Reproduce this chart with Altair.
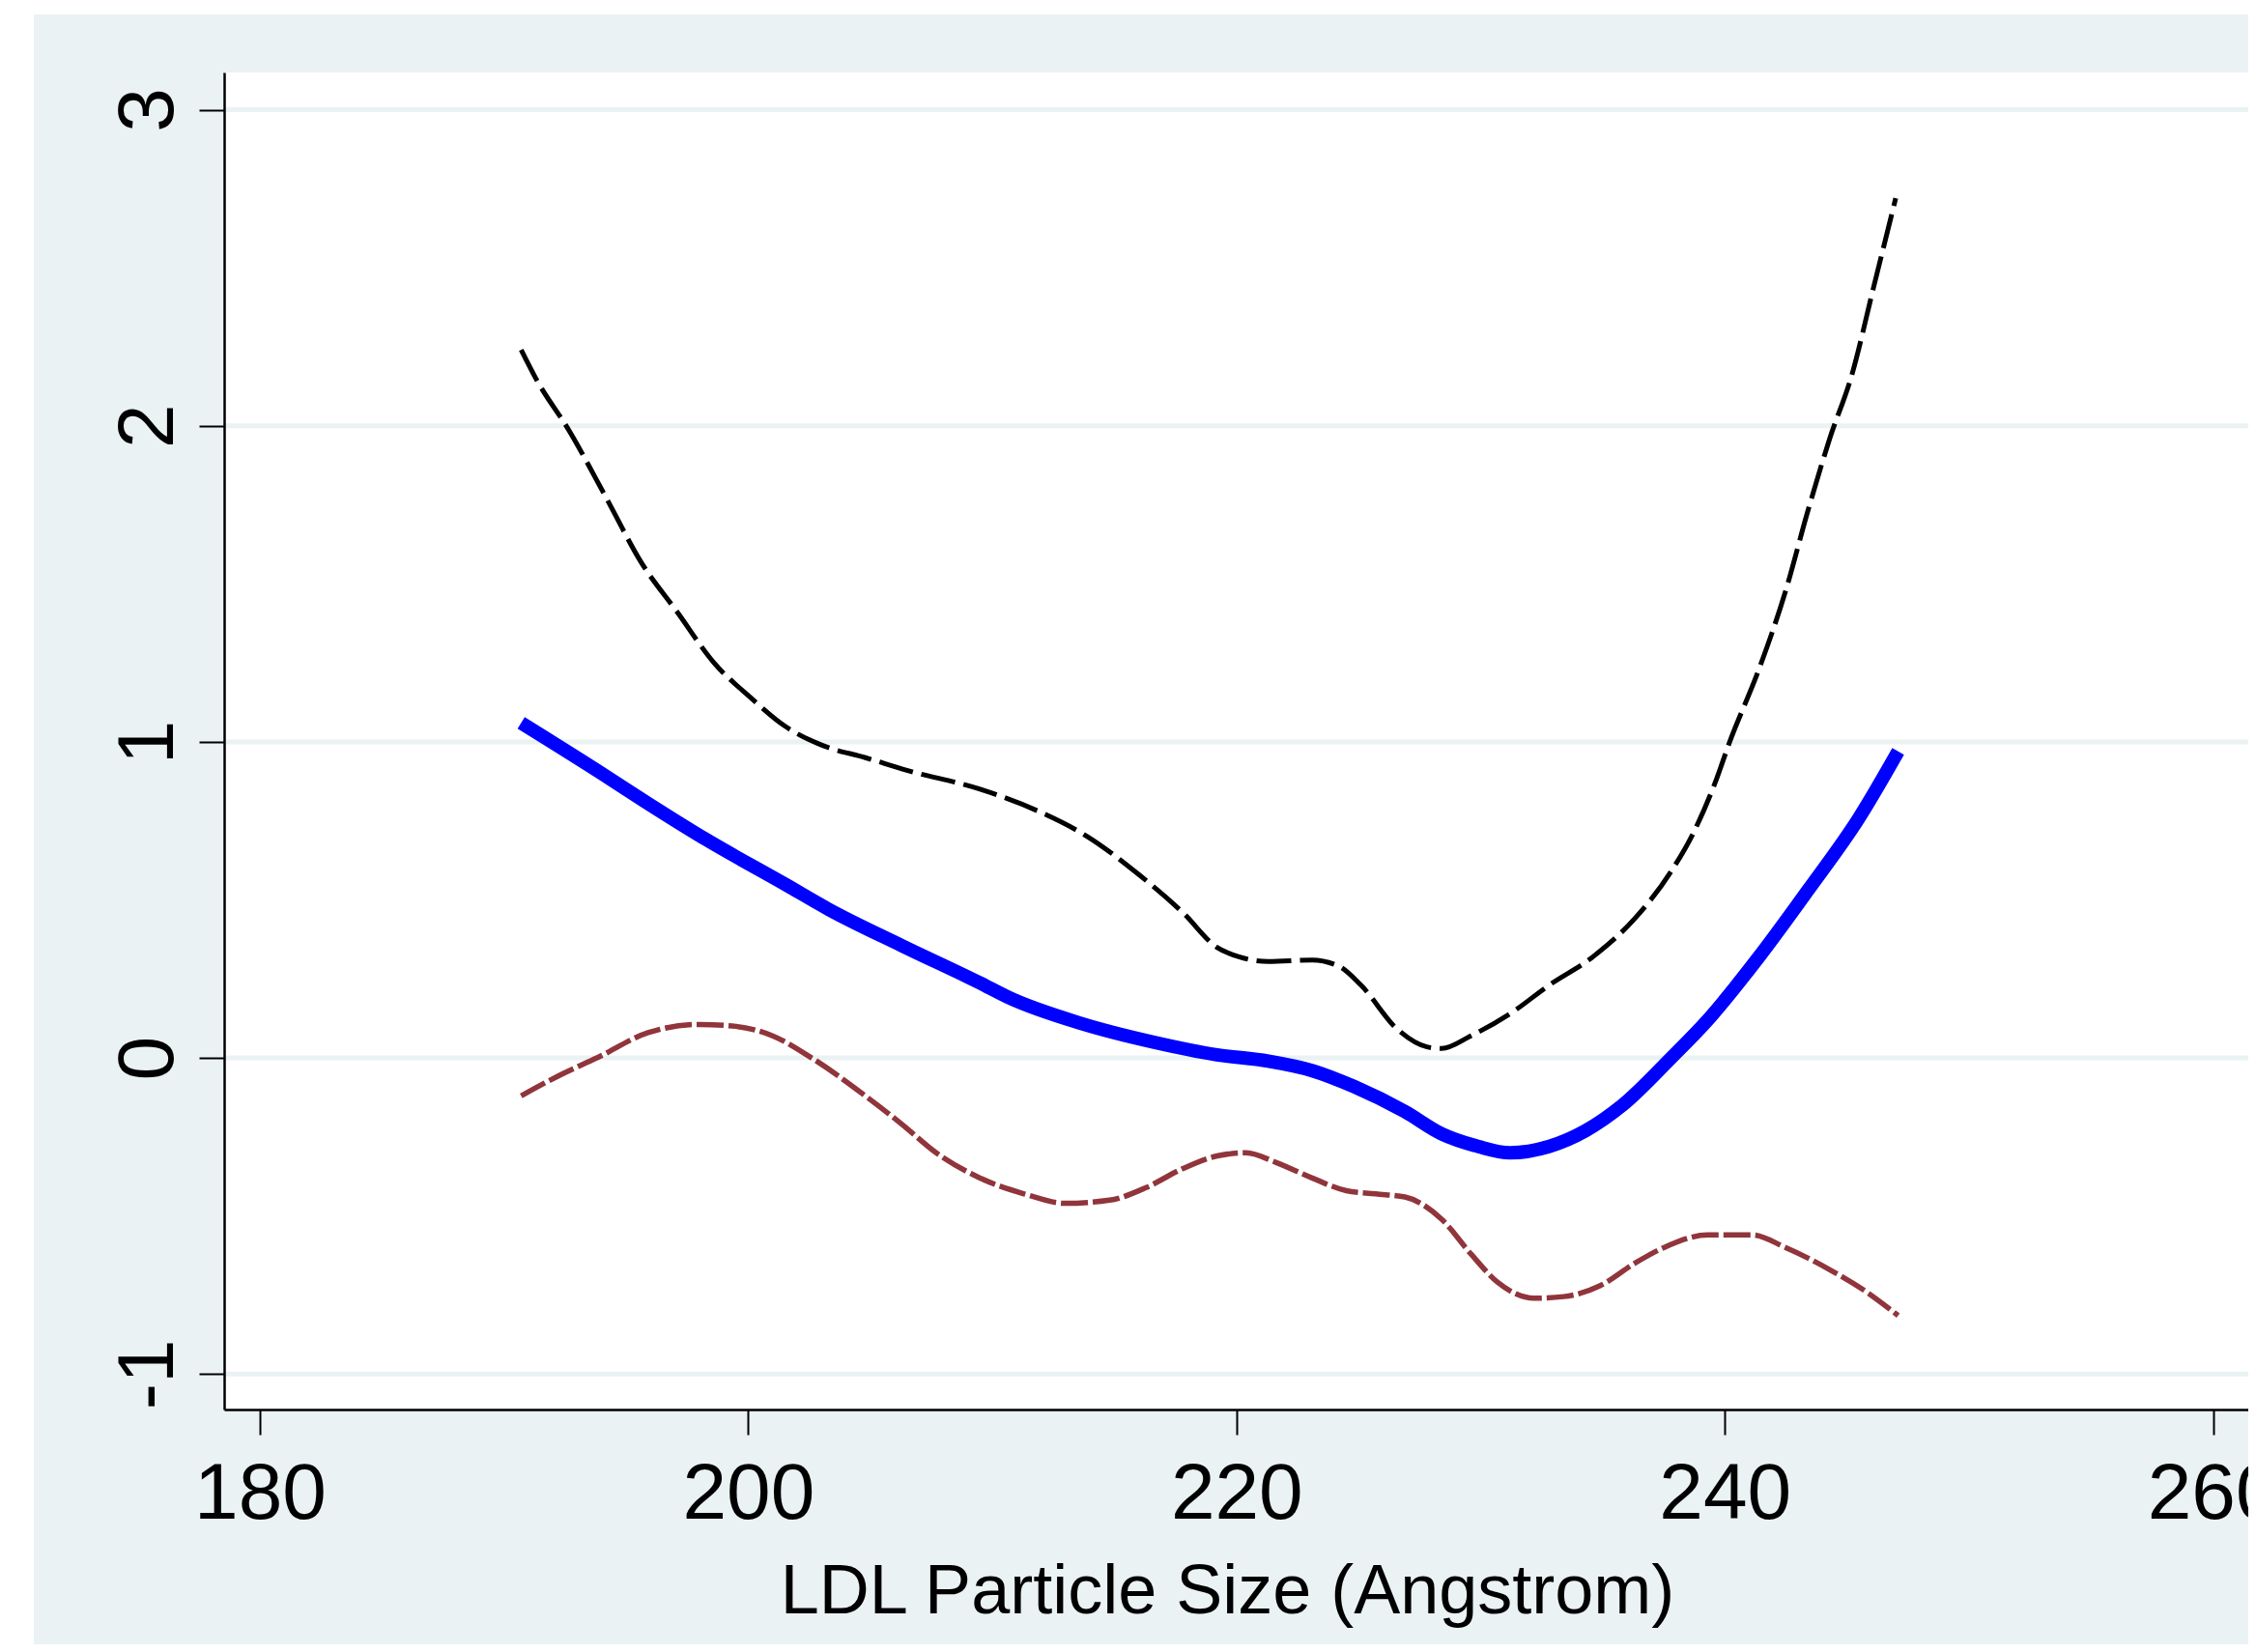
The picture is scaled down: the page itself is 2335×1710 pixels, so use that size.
import altair as alt
import pandas as pd

# ---- data ----
x_ticks = [180, 200, 220, 240, 260]
y_ticks = [-1, 0, 1, 2, 3]
x_title = "LDL Particle Size (Angstrom)"

blue_x = [190.7, 194.0, 195.8, 198.3, 201.5, 203.3, 206.3, 209.5, 210.7, 213.6,
          216.6, 219.2, 221.3, 223.1, 224.8, 226.9, 228.4, 229.9, 231.2, 232.8,
          234.3, 235.8, 237.8, 239.3, 241.4, 243.4, 245.5, 247.1]
blue_y = [1.06, 0.90, 0.81, 0.69, 0.55, 0.47, 0.355, 0.237, 0.19, 0.11,
          0.05, 0.01, -0.01, -0.04, -0.09, -0.17, -0.24, -0.28, -0.30, -0.28,
          -0.23, -0.15, 0.00, 0.12, 0.32, 0.53, 0.76, 0.97]

upper_x = [190.7, 191.3, 192.7, 194.2, 195.6, 197.1, 198.6, 200.1, 201.5, 203.0,
           204.8, 206.5, 209.5, 211.9, 213.9, 216.0, 217.8, 219.2, 220.1, 221.3,
           223.1, 224.2, 225.1, 226.6, 227.8, 228.4, 229.6, 231.3, 232.8, 234.6,
           236.3, 237.8, 238.7, 239.6, 240.2, 241.4, 242.5, 243.4, 244.3, 245.2,
           246.1, 247.0]
upper_y = [2.24, 2.15, 1.98, 1.77, 1.57, 1.41, 1.25, 1.14, 1.05, 0.99,
           0.95, 0.91, 0.85, 0.78, 0.70, 0.58, 0.46, 0.35, 0.32, 0.305,
           0.31, 0.29, 0.23, 0.09, 0.035, 0.03, 0.07, 0.145, 0.23, 0.32,
           0.44, 0.59, 0.71, 0.87, 1.00, 1.23, 1.48, 1.73, 1.96, 2.16,
           2.44, 2.72]

lower_x = [190.7, 192.4, 193.8, 195.9, 198.0, 199.5, 201.0, 202.6, 204.8, 206.3,
           207.7, 209.5, 211.3, 213.0, 214.8, 216.3, 217.8, 219.2, 220.4, 221.6,
           223.1, 224.5, 225.7, 226.9, 228.4, 229.6, 230.7, 232.2, 233.4, 234.9,
           236.3, 237.5, 239.3, 241.1, 242.5, 244.3, 245.8, 247.1]
lower_y = [-0.12, -0.05, 0.00, 0.08, 0.106, 0.10, 0.07, 0.00, -0.12, -0.21,
           -0.30, -0.38, -0.43, -0.46, -0.45, -0.41, -0.35, -0.31, -0.30, -0.33,
           -0.38, -0.42, -0.43, -0.44, -0.51, -0.62, -0.71, -0.76, -0.755, -0.72,
           -0.65, -0.60, -0.56, -0.56, -0.60, -0.67, -0.74, -0.815]

# ---- styling ----
BG = "#EAF2F3"
FONT = "Liberation Sans"
W, H = 2095, 1384

x_scale = alt.Scale(domain=[178.536, 261.44], nice=False, zero=False)
y_scale = alt.Scale(domain=[-1.1122, 3.1177], nice=False, zero=False)

x_axis = alt.Axis(values=x_ticks, grid=False, title=x_title, zindex=1,
                  domainColor="black", domainWidth=2.5, tickColor="black",
                  tickWidth=2, tickSize=26, labelFont=FONT, labelFontSize=82,
                  labelColor="black", labelBaseline="alphabetic", labelPadding=86,
                  labelFlush=False, labelOverlap=False, format="d",
                  titleFont=FONT, titleFontSize=72, titleFontWeight="normal",
                  titleColor="black", titleBaseline="alphabetic", titleY=210,
                  titleX=1038, titleAlign="center")
y_axis = alt.Axis(values=y_ticks, grid=False, title="", zindex=1,
                  domainColor="black", domainWidth=2.5, tickColor="black",
                  tickWidth=2, tickSize=26, labelFont=FONT, labelFontSize=82,
                  labelColor="black", labelAngle=270, labelAlign="center",
                  labelBaseline="alphabetic", labelPadding=28, labelFlush=False,
                  labelOverlap=False,
                  labelExpr="datum.value < 0 ? '-' + abs(datum.value) : '' + datum.value")

X = alt.X("x:Q", scale=x_scale, axis=x_axis)
Y = alt.Y("y:Q", scale=y_scale, axis=y_axis)

one = alt.Data(values=[{"a": 1}])

bg = alt.Chart(one).mark_rect(color=BG).encode(
    x=alt.value(-197), x2=alt.value(W), y=alt.value(-60), y2=alt.value(1627))
plot_bg = alt.Chart(one).mark_rect(color="white").encode(
    x=alt.value(0), x2=alt.value(W), y=alt.value(0), y2=alt.value(H))

grid = alt.Chart(pd.DataFrame({"y": y_ticks})).mark_rule(
    color=BG, strokeWidth=5).encode(y=Y)

lower = alt.Chart(pd.DataFrame({"x": lower_x, "y": lower_y})).mark_line(
    color="#90353B", strokeWidth=5.5, strokeDash=[28, 5], interpolate="monotone"
).encode(x=X, y=Y)
upper = alt.Chart(pd.DataFrame({"x": upper_x, "y": upper_y})).mark_line(
    color="black", strokeWidth=5, strokeDash=[36, 9], interpolate="monotone"
).encode(x=X, y=Y)
blue = alt.Chart(pd.DataFrame({"x": blue_x, "y": blue_y})).mark_line(
    color="#0000FF", strokeWidth=14, interpolate="monotone"
).encode(x=X, y=Y)

chart = alt.layer(bg, plot_bg, grid, lower, upper, blue).properties(
    width=W, height=H,
    autosize=alt.AutoSizeParams(type="none"),
    padding={"left": 224, "top": 67, "right": 0, "bottom": 243},
    background="white",
).configure_view(stroke="transparent")

chart.save("out.html", embed_options={"renderer": "svg", "actions": False})
